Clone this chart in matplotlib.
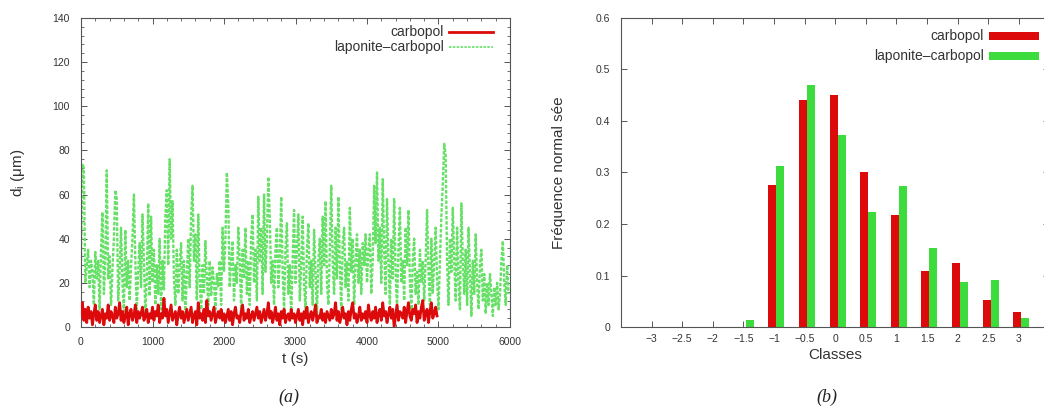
import numpy as np
import matplotlib
matplotlib.use("Agg")
import matplotlib.pyplot as plt
from matplotlib.ticker import MultipleLocator, AutoMinorLocator
from matplotlib.lines import Line2D
from matplotlib.patches import Rectangle

# ---- (a) time series of d_i, sampled every 20 s ----
dt = 20.0
laponite_carbopol_series = [
    30, 74, 72, 20, 28, 35, 18, 30, 25, 10, 34, 22, 30, 8, 35, 52, 15, 30, 71, 22, 32, 10, 26, 40, 62,
    58, 12, 25, 45, 20, 7, 44, 18, 30, 12, 28, 40, 60, 30, 8, 25, 38, 18, 51, 30, 6, 22, 56, 14, 50,
    20, 35, 10, 28, 15, 40, 8, 30, 17, 50, 62, 28, 76, 40, 57, 22, 10, 35, 15, 28, 38, 12, 30, 5, 24,
    40, 18, 50, 64, 30, 42, 12, 51, 20, 8, 28, 15, 39, 22, 10, 30, 14, 27, 20, 8, 24, 18, 30, 10, 45,
    25, 40, 70, 55, 18, 30, 39, 12, 28, 20, 45, 30, 8, 35, 22, 45, 15, 30, 10, 40, 51, 20, 35, 12, 59,
    30, 45, 15, 60, 25, 40, 68, 50, 20, 30, 10, 35, 45, 18, 30, 59, 25, 8, 35, 47, 15, 28, 5, 30, 53,
    20, 35, 51, 12, 28, 50, 20, 8, 35, 47, 18, 30, 10, 44, 25, 5, 30, 40, 15, 50, 28, 57, 20, 10, 35,
    64, 30, 15, 45, 22, 59, 28, 8, 38, 45, 18, 30, 12, 54, 25, 40, 10, 30, 42, 20, 35, 15, 38, 28, 42,
    20, 35, 42, 15, 30, 64, 38, 70, 30, 45, 20, 67, 35, 15, 58, 30, 10, 40, 22, 58, 25, 8, 35, 54, 20,
    30, 12, 45, 28, 53, 20, 8, 30, 40, 15, 25, 10, 35, 20, 30, 12, 30, 53, 25, 10, 40, 15, 30, 45, 22,
    8, 30, 50, 65, 83, 78, 30, 10, 40, 25, 54, 30, 12, 45, 20, 8, 56, 30, 15, 35, 10, 45, 25, 5, 30,
    15, 42, 20, 8, 28, 35, 12, 24, 6, 20, 10, 24, 15, 5, 18, 10, 20, 8, 15, 30, 39, 20, 10, 28, 15,
]
carbopol_series = [
    5, 11, 3, 8, 2, 9, 4, 7, 1, 6, 10, 3, 7, 2, 5, 8, 1, 6, 4, 10, 3, 7, 5, 2, 9,
    4, 6, 11, 3, 7, 2, 5, 9, 1, 6, 8, 3, 5, 10, 2, 7, 4, 6, 9, 3, 5, 8, 2, 6, 4,
    9, 3, 7, 5, 10, 2, 6, 4, 13, 5, 8, 2, 6, 10, 3, 5, 7, 1, 6, 9, 4, 7, 2, 5, 8,
    3, 6, 9, 2, 5, 7, 1, 11, 4, 6, 3, 8, 2, 12, 5, 7, 3, 6, 9, 2, 5, 7, 4, 8, 3,
    6, 2, 5, 8, 3, 7, 1, 6, 9, 4, 5, 2, 7, 10, 3, 6, 4, 8, 2, 5, 7, 3, 6, 9, 4,
    7, 2, 5, 8, 3, 6, 11, 4, 7, 2, 5, 9, 3, 6, 1, 7, 4, 8, 2, 5, 6, 3, 8, 4, 6,
    2, 5, 8, 3, 6, 1, 7, 4, 9, 2, 5, 7, 3, 6, 10, 2, 5, 4, 8, 3, 6, 2, 7, 5, 3,
    8, 4, 6, 11, 3, 7, 2, 5, 9, 4, 6, 1, 7, 3, 8, 11, 4, 6, 2, 5, 9, 3, 6, 4, 7,
    2, 10, 5, 3, 7, 4, 9, 2, 6, 8, 3, 11, 5, 7, 2, 6, 9, 4, 8, 0, 5, 10, 3, 7, 6,
    4, 9, 2, 7, 11, 5, 3, 8, 6, 10, 2, 7, 4, 9, 12, 3, 6, 8, 2, 7, 11, 4, 6, 9, 5,
]
t_lap = np.arange(len(laponite_carbopol_series)) * dt
t_carb = np.arange(len(carbopol_series)) * dt

# ---- (b) normalised class frequencies ----
classes = [-3, -2.5, -2, -1.5, -1, -0.5, 0, 0.5, 1, 1.5, 2, 2.5, 3]
freq_carbopol = [0, 0, 0, 0, 0.276, 0.441, 0.451, 0.301, 0.217, 0.108, 0.125, 0.052, 0.030]
freq_laponite = [0, 0, 0, 0.013, 0.313, 0.470, 0.372, 0.223, 0.274, 0.154, 0.088, 0.092, 0.018]
class_labels = ["\u22123", "\u22122.5", "\u22122", "\u22121.5", "\u22121", "\u22120.5",
                "0", "0.5", "1", "1.5", "2", "2.5", "3"]
series_names = ["carbopol", "laponite\u2013carbopol"]

RED = "#dc0a0a"
GREEN_LINE = "#66e066"
GREEN_BAR = "#3ddc3d"
AX_COL = "#555555"
TXT = "#333333"

plt.rcParams["font.family"] = ["Liberation Sans", "DejaVu Sans"]

W, H = 1044, 418
fig = plt.figure(figsize=(W / 100, H / 100), dpi=100)


def px_axes(x0, y0, x1, y1):
    return fig.add_axes([x0 / W, 1 - y1 / H, (x1 - x0) / W, (y1 - y0) / H])


def px(x, y):
    # pixel position -> figure fraction
    return x / W, 1 - y / H


def style(ax, xpad, ypad):
    for s in ax.spines.values():
        s.set_color(AX_COL)
        s.set_linewidth(0.8)
    ax.tick_params(which="both", direction="in", top=True, right=True,
                   colors=AX_COL, labelcolor=TXT, labelsize=7.5)
    ax.tick_params(which="major", length=4, width=0.7)
    ax.tick_params(which="minor", length=2, width=0.6)
    ax.tick_params(axis="x", pad=xpad)
    ax.tick_params(axis="y", pad=ypad)


# ---------------- panel (a) ----------------
ax1 = px_axes(81, 18, 510, 327)
ax1.plot(t_lap, laponite_carbopol_series, color=GREEN_LINE, lw=1.7,
         ls=(0, (1.5, 0.7)), zorder=2)
ax1.plot(t_carb, carbopol_series, color=RED, lw=2.0, zorder=3)
ax1.set_xlim(0, 6000)
ax1.set_ylim(0, 140)
ax1.xaxis.set_major_locator(MultipleLocator(1000))
ax1.yaxis.set_major_locator(MultipleLocator(20))
ax1.xaxis.set_minor_locator(AutoMinorLocator(5))
ax1.yaxis.set_minor_locator(AutoMinorLocator(5))
style(ax1, 7, 8)
ax1.set_xlabel("t (s)", fontsize=11, color=TXT, labelpad=4)
ax1.set_ylabel(r"d$_\mathregular{i}$ ($\mathregular{\mu}$m)", fontsize=11, color=TXT, labelpad=18)

# key of panel (a): label right-aligned, line sample to its right
for name, col, ls, lw, ypix in [(series_names[0], RED, "-", 2.0, 32),
                                (series_names[1], GREEN_LINE, (0, (1.5, 0.8)), 1.2, 47)]:
    fig.text(*px(444, ypix), name, fontsize=10, color=TXT, ha="right", va="center")
    xa, ya = px(449, ypix)
    xb, _ = px(493, ypix)
    fig.add_artist(Line2D([xa, xb], [ya, ya], color=col, lw=lw, ls=ls))

fig.text(*px(289, 397), "(a)", fontsize=13, style="italic",
         family=["Liberation Serif", "DejaVu Serif"], ha="center", va="center", color="#222222")

# ---------------- panel (b) ----------------
ax2 = px_axes(621, 18, 621 + 428.4, 327)
width = 0.13
x = np.array(classes, dtype=float)
ax2.bar(x - 0.09, freq_carbopol, width=width, align="edge", color=RED, zorder=2)
ax2.bar(x - 0.09 + width, freq_laponite, width=width, align="edge", color=GREEN_BAR, zorder=2)
ax2.set_xlim(-3.5, 3.5)
ax2.set_ylim(0, 0.6)
ax2.set_xticks(classes)
ax2.set_xticklabels(class_labels)
ax2.yaxis.set_major_locator(MultipleLocator(0.1))
ax2.yaxis.set_major_formatter(plt.FuncFormatter(lambda v, p: "0" if abs(v) < 1e-9 else f"{v:.1f}"))
style(ax2, 5, 8)
ax2.set_xlabel("Classes", fontsize=11, color=TXT, labelpad=3)
ax2.set_ylabel("Fr\u00e9quence normal s\u00e9e", fontsize=11, color=TXT, labelpad=21)

# key of panel (b): label right-aligned, filled box to its right
for name, col, ypix in [(series_names[0], RED, 36), (series_names[1], GREEN_BAR, 56)]:
    fig.text(*px(984, ypix), name, fontsize=10, color=TXT, ha="right", va="center")
    x0, y0 = px(989, ypix + 3.5)
    x1, y1 = px(1039, ypix - 3.5)
    fig.add_artist(Rectangle((x0, y0), x1 - x0, y1 - y0, color=col, lw=0))

fig.text(*px(827, 397), "(b)", fontsize=13, style="italic",
         family=["Liberation Serif", "DejaVu Serif"], ha="center", va="center", color="#222222")

fig.savefig("out.png", dpi=100)
